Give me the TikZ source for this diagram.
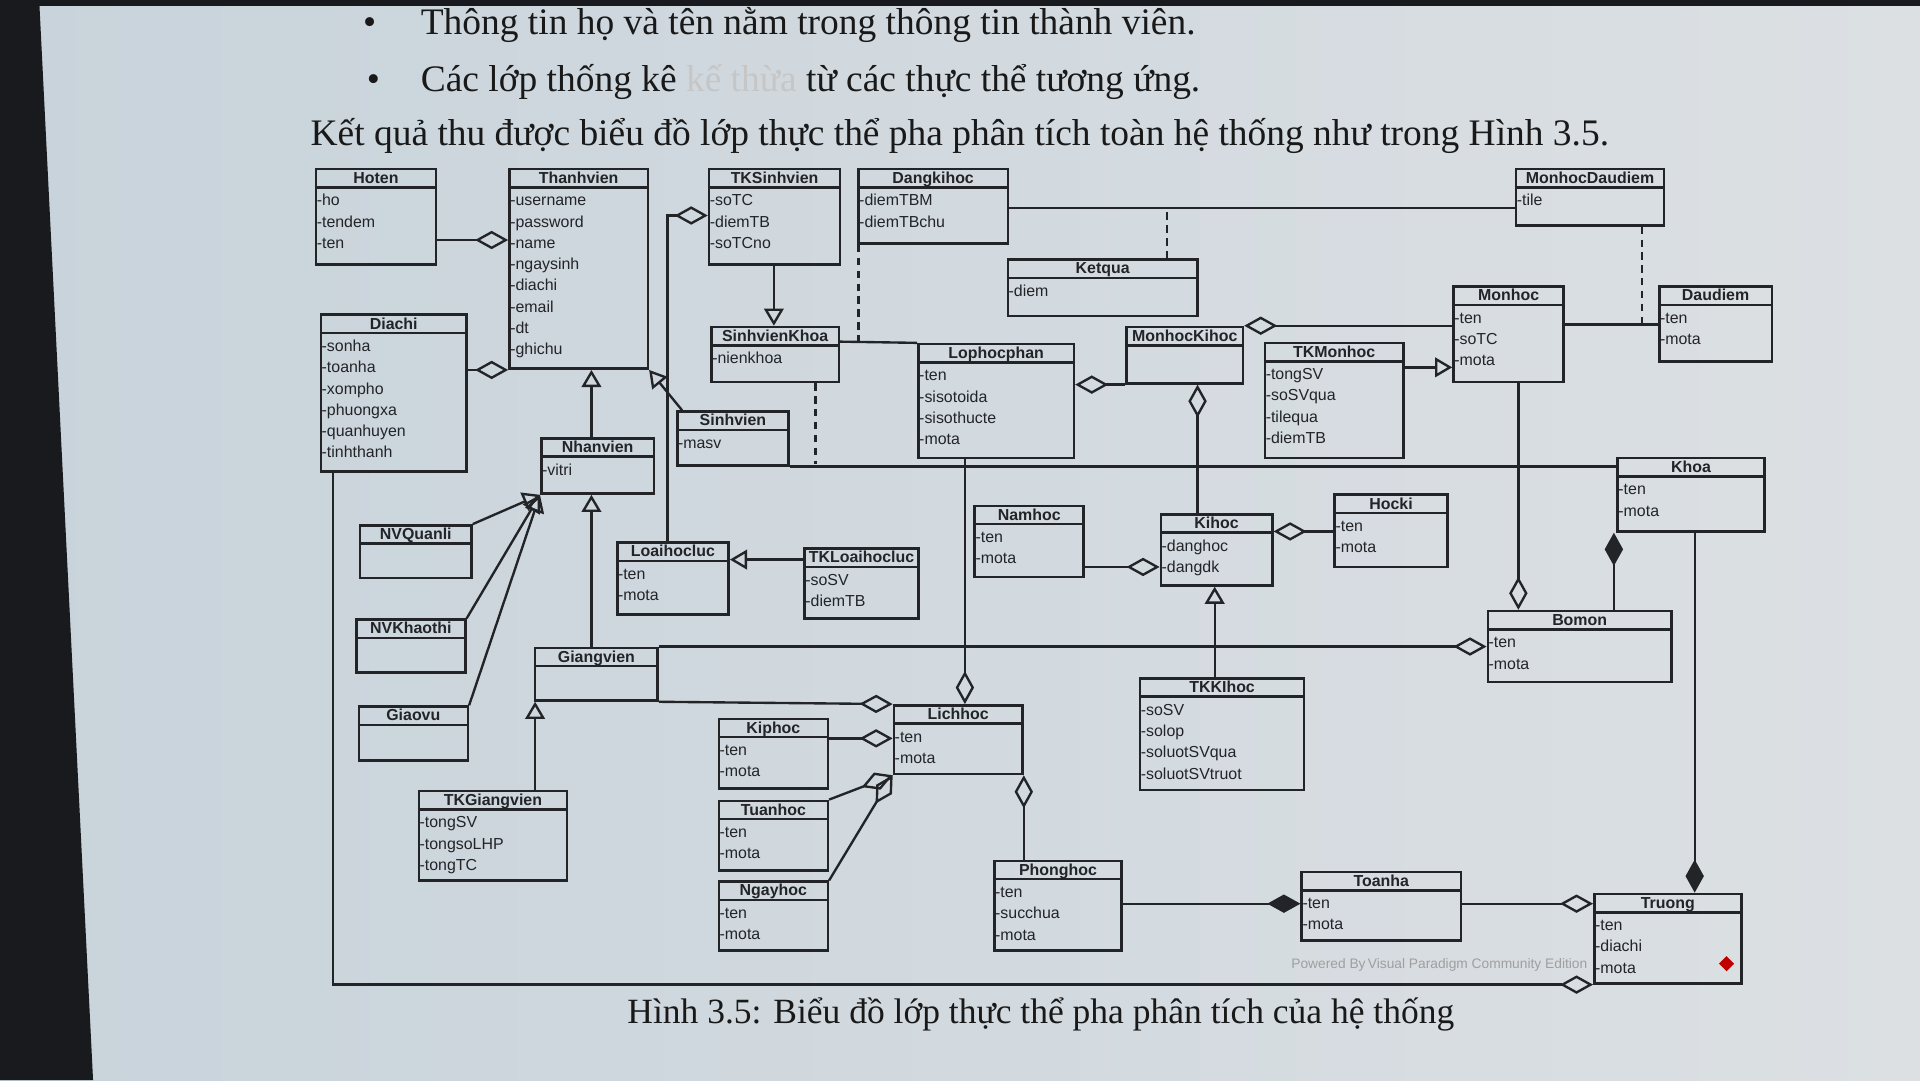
\documentclass[tikz,border=0pt]{standalone}
\usepackage{fontspec}
\usepackage{xcolor}
\usepackage{tikz}
\usetikzlibrary{arrows.meta, positioning, shapes.geometric}
\setmainfont{Liberation Serif}
\newfontfamily\umlfont{Liberation Sans}
\definecolor{screen}{RGB}{200,211,219}
\definecolor{screenlight}{RGB}{220,224,227}
\definecolor{ink}{RGB}{34,36,40}
\definecolor{bezel}{RGB}{24,26,30}

% class box: name, x, y, width, height, title, attributes
\newcommand{\umlclass}[7]{%
  \node[classbox, minimum width={#4*0.1mm}, minimum height={#5*0.1mm}, anchor=north west] (#1) at (#2,#3) {};
  \draw[ink, line width=0.6pt] ([yshift=-1.6mm]#1.north west) -- ([yshift=-1.6mm]#1.north east);
  \node[classtitle] (#1-t) at ([yshift=-1.27mm]#1.north) {#6};
  \foreach \a [count=\i] in {#7} {
    \node[classattr] (#1-\i) at ([yshift={-(3.1+(\i-1)*1.74)*1mm}]#1.north west) {\a};
  }%
}

\begin{document}
\begin{tikzpicture}[x=0.1mm, y=-0.1mm,
    classbox/.style={rectangle, draw=ink, line width=0.6pt, inner sep=0pt},
    classtitle/.style={anchor=base, inner sep=0pt, font=\umlfont\bfseries\fontsize{3.7}{4.9}\selectfont, text=ink},
    classattr/.style={anchor=base west, inner sep=0pt, xshift=0.1mm, font=\umlfont\fontsize{3.7}{4.9}\selectfont, text=ink},
    conn/.style={draw=ink, line width=0.55pt},
    agg/.style={conn, -{Diamond[open, length=2.7mm, width=1.5mm]}},
    compo/.style={conn, -{Diamond[length=2.7mm, width=1.5mm]}},
    gen/.style={conn, -{Triangle[open, length=1.4mm, width=1.6mm]}},
    assoc/.style={conn, dashed, dash pattern=on 0.6mm off 0.45mm},
    doc/.style={anchor=base west, inner sep=0pt, font=\fontsize{8.7}{10}\selectfont, text=black!90}]
    \useasboundingbox (0,0) rectangle (1568,882);

    % Screen and bezel
    \shade[left color=screen, right color=screenlight] (0,0) rectangle (1568,882);
    \fill[bezel] (0,0) -- (32,0) -- (76,882) -- (0,882) -- cycle;
    \fill[bezel] (0,0) rectangle (1568,5);

    % Text above the figure
    \node[doc, anchor=base] (dot1) at (302,28) {\textbullet};
    \node[doc] (line1) at (343,28) {Thông tin họ và tên nằm trong thông tin thành viên.};
    \node[doc, anchor=base] (dot2) at (305,75) {\textbullet};
    \node[doc] (line2) at (343,75) {Các lớp thống kê {\color{gray!45}kế thừa} từ các thực thể tương ứng.};
    \node[doc] (para) at (253,119) {Kết quả thu được biểu đồ lớp thực thể pha phân tích toàn hệ thống như trong Hình 3.5.};

    % Classes, top rows
    \umlclass{Hoten}{257}{137}{98}{78}{Hoten}{-ho,-tendem,-ten}
    \umlclass{Thanhvien}{415}{137}{113}{163}{Thanhvien}{-username,-password,-name,-ngaysinh,-diachi,-email,-dt,-ghichu}
    \umlclass{TKSinhvien}{578}{137}{107}{78}{TKSinhvien}{-soTC,-diemTB,-soTCno}
    \umlclass{Dangkihoc}{700}{137}{122}{61}{Dangkihoc}{-diemTBM,-diemTBchu}
    \umlclass{MonhocDaudiem}{1237}{137}{121}{46}{MonhocDaudiem}{-tile}
    \umlclass{Ketqua}{822}{211}{155}{46}{Ketqua}{-diem}
    \umlclass{Diachi}{261}{256}{119}{128}{Diachi}{-sonha,-toanha,-xompho,-phuongxa,-quanhuyen,-tinhthanh}
    \umlclass{SinhvienKhoa}{580}{266}{104}{45}{SinhvienKhoa}{-nienkhoa}
    \umlclass{Lophocphan}{749}{280}{127}{93}{Lophocphan}{-ten,-sisotoida,-sisothucte,-mota}
    \umlclass{MonhocKihoc}{919}{266}{95}{46}{MonhocKihoc}{}
    \umlclass{TKMonhoc}{1032}{279}{113}{94}{TKMonhoc}{-tongSV,-soSVqua,-tilequa,-diemTB}
    \umlclass{Monhoc}{1186}{233}{90}{78}{Monhoc}{-ten,-soTC,-mota}
    \umlclass{Daudiem}{1354}{233}{92}{61}{Daudiem}{-ten,-mota}
    \umlclass{Sinhvien}{552}{335}{91}{44}{Sinhvien}{-masv}
    \umlclass{Nhanvien}{441}{357}{92}{45}{Nhanvien}{-vitri}

    % Classes, middle rows
    \umlclass{Khoa}{1320}{373}{120}{60}{Khoa}{-ten,-mota}
    \umlclass{Namhoc}{795}{412}{89}{58}{Namhoc}{-ten,-mota}
    \umlclass{Hocki}{1089}{403}{92}{59}{Hocki}{-ten,-mota}
    \umlclass{Kihoc}{947}{419}{91}{58}{Kihoc}{-danghoc,-dangdk}
    \umlclass{NVQuanli}{293}{428}{91}{43}{NVQuanli}{}
    \umlclass{Loaihocluc}{503}{442}{91}{59}{Loaihocluc}{-ten,-mota}
    \umlclass{TKLoaihocluc}{656}{447}{93}{57}{TKLoaihocluc}{-soSV,-diemTB}
    \umlclass{NVKhaothi}{290}{505}{89}{43}{NVKhaothi}{}
    \umlclass{Bomon}{1214}{498}{150}{58}{Bomon}{-ten,-mota}
    \umlclass{Giangvien}{436}{528}{100}{43}{Giangvien}{}
    \umlclass{TKKIhoc}{930}{553}{134}{91}{TKKIhoc}{-soSV,-solop,-soluotSVqua,-soluotSVtruot}

    % Classes, bottom rows
    \umlclass{Lichhoc}{729}{575}{105}{56}{Lichhoc}{-ten,-mota}
    \umlclass{Giaovu}{292}{576}{89}{44}{Giaovu}{}
    \umlclass{Kiphoc}{586}{586}{89}{57}{Kiphoc}{-ten,-mota}
    \umlclass{TKGiangvien}{341}{645}{121}{73}{TKGiangvien}{-tongSV,-tongsoLHP,-tongTC}
    \umlclass{Tuanhoc}{586}{653}{89}{57}{Tuanhoc}{-ten,-mota}
    \umlclass{Ngayhoc}{586}{719}{89}{56}{Ngayhoc}{-ten,-mota}
    \umlclass{Phonghoc}{811}{702}{104}{73}{Phonghoc}{-ten,-succhua,-mota}
    \umlclass{Toanha}{1062}{711}{130}{56}{Toanha}{-ten,-mota}
    \umlclass{Truong}{1301}{729}{120}{73}{Truong}{-ten,-diachi,-mota}

    % Thanhvien and its parts
    \draw[agg] (Hoten.east |- 0,196) -- (Thanhvien.west |- 0,196);
    \draw[agg] (Diachi.east |- Thanhvien.south) -- (Thanhvien.south west);
    \draw[gen] (Nhanvien.north -| 483,0) -- (Thanhvien.south -| 483,0);
    \draw[gen] ([xshift=0.5mm]Sinhvien.north west) -- (Thanhvien.south east);
    \draw[gen] (NVQuanli.north east) -- (Nhanvien.south west);
    \draw[gen] (NVKhaothi.north east) -- (Nhanvien.south west);
    \draw[gen] (Giaovu.north east) -- (Nhanvien.south west);
    \draw[gen] (Giangvien.north -| 483,0) -- (Nhanvien.south -| 483,0);
    \draw[gen] (TKGiangvien.north -| 437,0) -- (Giangvien.south -| 437,0);

    % Student statistics
    \draw[agg] (Loaihocluc.north -| 545,0) |- (TKSinhvien.west |- 0,176);
    \draw[gen] (TKSinhvien.south -| 632,0) -- (SinhvienKhoa.north -| 632,0);
    \draw[gen] (TKLoaihocluc.west |- 0,457) -- (Loaihocluc.east |- 0,457);

    % Associations with association classes
    \coordinate (ketquaLink) at (953,170);
    \draw[conn] (Dangkihoc.east |- ketquaLink) -- (MonhocDaudiem.west |- ketquaLink);
    \draw[assoc] (Ketqua.north -| ketquaLink) -- (ketquaLink);
    \coordinate (dangkiLink) at (701,279);
    \draw[conn] (SinhvienKhoa.east |- dangkiLink) -- (Lophocphan.north west);
    \draw[assoc] (Dangkihoc.south -| dangkiLink) -- (dangkiLink);
    \coordinate (khoaLink) at (666,379);
    \draw[conn] (Sinhvien.south east) -- (Khoa.west |- Sinhvien.south east);
    \draw[assoc] (SinhvienKhoa.south -| khoaLink) -- (khoaLink);
    \coordinate (daudiemLink) at (1341,265);
    \draw[conn] (Monhoc.east |- daudiemLink) -- (Daudiem.west |- daudiemLink);
    \draw[assoc] (MonhocDaudiem.south -| daudiemLink) -- (daudiemLink);

    % Subjects and terms
    \draw[agg] (MonhocKihoc.south west) -- (Lophocphan.east |- MonhocKihoc.south west);
    \draw[agg] (Monhoc.west |- MonhocKihoc.north east) -- (MonhocKihoc.north east);
    \draw[agg] (Kihoc.north -| 978,0) -- (MonhocKihoc.south -| 978,0);
    \draw[gen] (TKMonhoc.east |- 0,300) -- (Monhoc.west |- 0,300);
    \draw[agg] (Hocki.west |- 0,434) -- (Kihoc.east |- 0,434);
    \draw[agg] (Namhoc.east |- 0,463) -- (Kihoc.west |- 0,463);
    \draw[gen] (TKKIhoc.north -| 992,0) -- (Kihoc.south -| 992,0);

    % Departments and school
    \draw[agg] (Monhoc.south -| 1240,0) -- (Bomon.north -| 1240,0);
    \draw[compo] (Bomon.north -| 1318,0) -- (Khoa.south -| 1318,0);
    \draw[compo] (Khoa.south -| 1384,0) -- (Truong.north -| 1384,0);
    \draw[agg] (Giangvien.north east) -- (Bomon.west |- Giangvien.north east);

    % Timetable
    \draw[agg] (Lophocphan.south -| 788,0) -- (Lichhoc.north -| 788,0);
    \draw[agg] (Giangvien.south east) -- (Lichhoc.north west);
    \draw[agg] (Kiphoc.east |- 0,603) -- (Lichhoc.west |- 0,603);
    \draw[agg] (Tuanhoc.north east) -- (Lichhoc.south west);
    \draw[agg] (Ngayhoc.north east) -- (Lichhoc.south west);
    \draw[agg] (Phonghoc.north -| Lichhoc.south east) -- (Lichhoc.south east);

    % Rooms and buildings
    \draw[compo] (Phonghoc.east |- 0,738) -- (Toanha.west |- 0,738);
    \draw[agg] (Toanha.east |- 0,738) -- (Truong.west |- 0,738);
    \draw[agg] (Diachi.south -| 272,0) |- (Truong.south west);

    % Watermark and caption
    \node[anchor=base east, inner sep=0pt, font=\umlfont\fontsize{3.2}{4}\selectfont, text=gray!75] (vp) at (1297,791) {Powered By\,Visual Paradigm Community Edition};
    \node[diamond, fill=red!75!black, inner sep=0pt, minimum size=1.3mm] (vplogo) at (1410,787) {};
    \node[doc, anchor=base, font=\fontsize{8.25}{10}\selectfont] (caption) at (850,836) {Hình 3.5: Biểu đồ lớp thực thể pha phân tích của hệ thống};
\end{tikzpicture}
\end{document}
